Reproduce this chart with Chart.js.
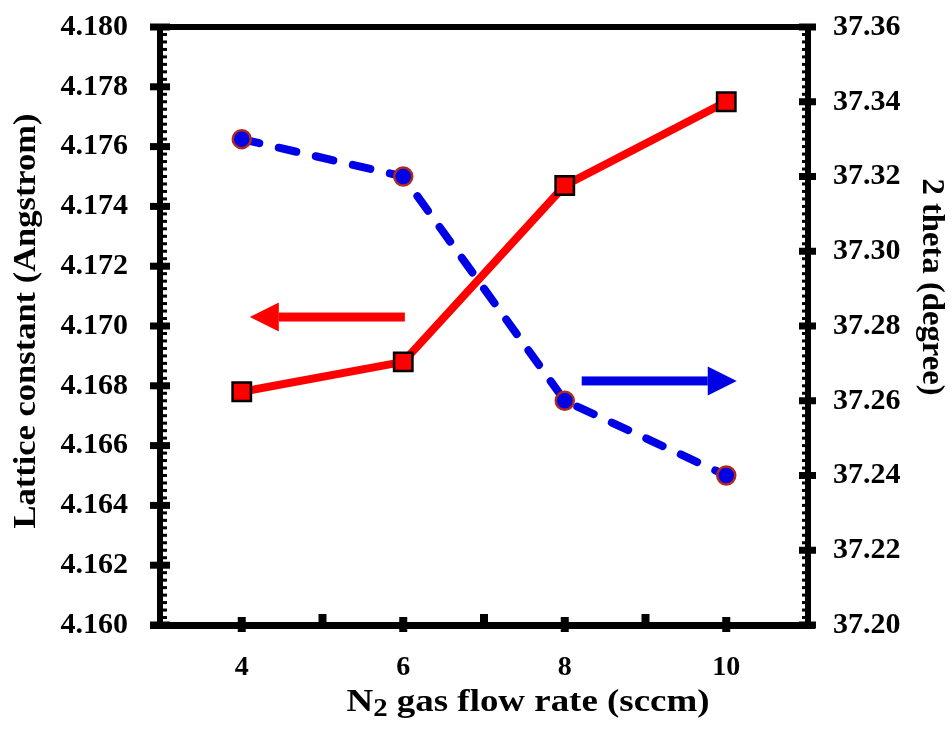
<!DOCTYPE html>
<html>
<head>
<meta charset="utf-8">
<title>Lattice constant / 2 theta vs N2 flow</title>
<script src="https://cdn.jsdelivr.net/npm/chart.js@4.4.1/dist/chart.umd.min.js"></script>
<style>
  html, body { margin: 0; padding: 0; background: #fff; }
  #lienzo { display: block; }
</style>
</head>
<body>
<canvas id="lienzo" width="952" height="735"></canvas>
<script>
// ── Datos ─────────────────────────────────────
const flujoN2        = [4, 6, 8, 10]                       // sccm
const constanteRed   = [4.1678, 4.1688, 4.1747, 4.1775]    // Angstrom
const dosTheta       = [37.330, 37.320, 37.260, 37.240]    // grados
const ticksX         = [4, 6, 8, 10]
const ticksMenoresX  = [5, 7, 9]

// flechas que indican a qué eje pertenece cada serie
const flechaRed   = { desde: 6.02, hasta: 4.10, nivel: 4.1703, eje: 'y',  color: '#ff0000' }
const flechaTheta = { desde: 8.21, hasta: 10.13, nivel: 37.2653, eje: 'y1', color: '#0000e6' }

// ── Tema ──────────────────────────────────────
const FUENTE = "'Liberation Serif', 'Times New Roman', serif"
Chart.defaults.font.family = FUENTE
Chart.defaults.color = '#000'

const ROJO = '#ff0000'
const AZUL = '#0000e6'

// ancho fijo de cada eje, sin el relleno extra que Chart.js agrega por las etiquetas
function fijarEje(prop, valor) {
  return s => {
    s[prop] = valor
    s.paddingTop = 0
    s.paddingBottom = 0
    s.paddingLeft = 0
    s.paddingRight = 0
  }
}

// ── Marco de ejes con ticks mayores y menores ─
const marcoEjes = {
  id: 'marcoEjes',
  afterDatasetsDraw(chart) {
    const { ctx, chartArea: a, scales: { x, y, y1 } } = chart
    const izq = a.left - 1
    const der = a.right + 1
    ctx.save()
    ctx.fillStyle = '#000'

    // líneas del marco
    ctx.fillRect(izq - 10, a.top - 3, der - izq + 17, 6)
    ctx.fillRect(izq - 10, a.bottom - 3, der - izq + 17, 7)
    ctx.fillRect(izq - 3, a.top - 3, 6, a.bottom - a.top + 7)
    ctx.fillRect(der - 3, a.top - 3, 6, a.bottom - a.top + 7)

    // ticks menores verticales (hacia adentro)
    const n = 80
    for (let i = 1; i < n; i++) {
      if (i % 10 === 0) continue
      const p1 = y1.getPixelForValue(y1.min + i * (y1.max - y1.min) / n)
      ctx.fillRect(der - 6, p1 - 1.5, 4, 3)
    }
    for (let i = 1; i < n; i++) {
      if (i % 8 === 0) continue
      const p = y.getPixelForValue(y.min + i * (y.max - y.min) / n)
      ctx.fillRect(izq + 3, p - 1.5, 4, 3)
    }

    // ticks mayores
    y.ticks.forEach(t => {
      const p = y.getPixelForValue(t.value)
      ctx.fillRect(izq - 10, p - 3.5, 20, 7)
    })
    y1.ticks.forEach(t => {
      const p = y1.getPixelForValue(t.value)
      ctx.fillRect(der - 9, p - 3.5, 17, 7)
    })
    ticksX.forEach(v => {
      const p = x.getPixelForValue(v)
      ctx.fillRect(p - 4, a.bottom - 8, 8, 15)
    })
    ticksMenoresX.forEach(v => {
      const p = x.getPixelForValue(v)
      ctx.fillRect(p - 4, a.bottom - 11, 8, 10)
    })
    ctx.restore()
  }
}

// ── Flechas ───────────────────────────────────
function dibujarFlecha(chart, f) {
  const { ctx, scales } = chart
  const x0 = scales.x.getPixelForValue(f.desde)
  const x1 = scales.x.getPixelForValue(f.hasta)
  const py = scales[f.eje].getPixelForValue(f.nivel)
  const dir = Math.sign(x1 - x0)
  const largoPunta = 29
  const base = x1 - dir * largoPunta
  ctx.save()
  ctx.fillStyle = f.color
  ctx.fillRect(Math.min(x0, base), py - 4.5, Math.abs(base - x0), 9)
  ctx.beginPath()
  ctx.moveTo(x1, py)
  ctx.lineTo(base, py - 14.5)
  ctx.lineTo(base, py + 14.5)
  ctx.closePath()
  ctx.fill()
  ctx.restore()
}

const flechas = {
  id: 'flechas',
  beforeDatasetsDraw(chart) {
    dibujarFlecha(chart, flechaRed)
    dibujarFlecha(chart, flechaTheta)
  }
}

// ── Títulos de ejes (con subíndice y texto girado) ─
function textoAjustado(ctx, texto, cx, cy, ancho, angulo) {
  ctx.save()
  ctx.translate(cx, cy)
  ctx.rotate(angulo)
  const w = ctx.measureText(texto).width
  ctx.scale(ancho / w, 1)
  ctx.textAlign = 'center'
  ctx.textBaseline = 'middle'
  ctx.fillText(texto, 0, 0)
  ctx.restore()
}

const titulos = {
  id: 'titulos',
  afterDraw(chart) {
    const { ctx } = chart
    ctx.save()
    ctx.fillStyle = '#000'
    ctx.font = `bold 32px ${FUENTE}`
    textoAjustado(ctx, 'Lattice constant (Angstrom)', 27, 321, 415, -Math.PI / 2)
    textoAjustado(ctx, '2 theta (degree)', 931, 287, 217, Math.PI / 2)

    // N₂ gas flow rate (sccm)
    const grande = `bold 32px ${FUENTE}`
    const chico  = `bold 25px ${FUENTE}`
    const partes = [
      { t: 'N', f: grande, dy: 0 },
      { t: '2', f: chico, dy: 5 },
      { t: ' gas flow rate (sccm)', f: grande, dy: 0 }
    ]
    let total = 0
    partes.forEach(p => { ctx.font = p.f; p.w = ctx.measureText(p.t).width; total += p.w })
    const escala = 363 / total
    ctx.translate(528, 711)
    ctx.scale(escala, 1)
    ctx.textBaseline = 'alphabetic'
    ctx.textAlign = 'left'
    let cx = -total / 2
    partes.forEach(p => {
      ctx.font = p.f
      ctx.fillText(p.t, cx, p.dy)
      cx += p.w
    })
    ctx.restore()
  }
}

// ── Gráfico ───────────────────────────────────
const puntos = (xs, ys) => xs.map((v, i) => ({ x: v, y: ys[i] }))

new Chart(document.getElementById('lienzo').getContext('2d'), {
  type: 'line',
  data: {
    datasets: [
      {
        label: 'Lattice constant',
        data: puntos(flujoN2, constanteRed),
        yAxisID: 'y',
        borderColor: ROJO,
        borderWidth: 8,
        pointStyle: 'rect',
        pointRadius: 13,
        pointBackgroundColor: ROJO,
        pointBorderColor: '#000',
        pointBorderWidth: 2.5,
        tension: 0
      },
      {
        label: '2 theta',
        data: puntos(flujoN2, dosTheta),
        yAxisID: 'y1',
        borderColor: AZUL,
        borderWidth: 8,
        borderDash: [18, 20],
        borderCapStyle: 'round',
        pointStyle: 'circle',
        pointRadius: 9,
        pointBackgroundColor: AZUL,
        pointBorderColor: '#b0281e',
        pointBorderWidth: 2.5,
        tension: 0
      }
    ]
  },
  options: {
    responsive: false,
    animation: false,
    devicePixelRatio: 1,
    layout: { padding: { top: 27, left: 0, right: 0, bottom: 0 } },
    plugins: { legend: { display: false }, tooltip: { enabled: false } },
    scales: {
      x: {
        type: 'linear',
        min: 3,
        max: 11,
        afterBuildTicks: s => { s.ticks = ticksX.map(v => ({ value: v })) },
        afterFit: fijarEje('height', 110),
        grid: { display: false, drawTicks: false },
        border: { display: false },
        ticks: { font: { size: 28, weight: 'bold' }, color: '#000', padding: 26, maxRotation: 0 }
      },
      y: {
        position: 'left',
        min: 4.16,
        max: 4.18,
        afterFit: fijarEje('width', 161),
        grid: { display: false, drawTicks: false },
        border: { display: false },
        ticks: {
          stepSize: 0.002,
          font: { size: 30, weight: 'bold' },
          color: '#000',
          padding: 33,
          callback: v => v.toFixed(3)
        }
      },
      y1: {
        position: 'right',
        min: 37.2,
        max: 37.36,
        afterFit: fijarEje('width', 145),
        grid: { display: false, drawTicks: false },
        border: { display: false },
        ticks: {
          stepSize: 0.02,
          font: { size: 30, weight: 'bold' },
          color: '#000',
          padding: 26,
          callback: v => v.toFixed(2)
        }
      }
    }
  },
  plugins: [marcoEjes, flechas, titulos]
})
</script>
</body>
</html>
